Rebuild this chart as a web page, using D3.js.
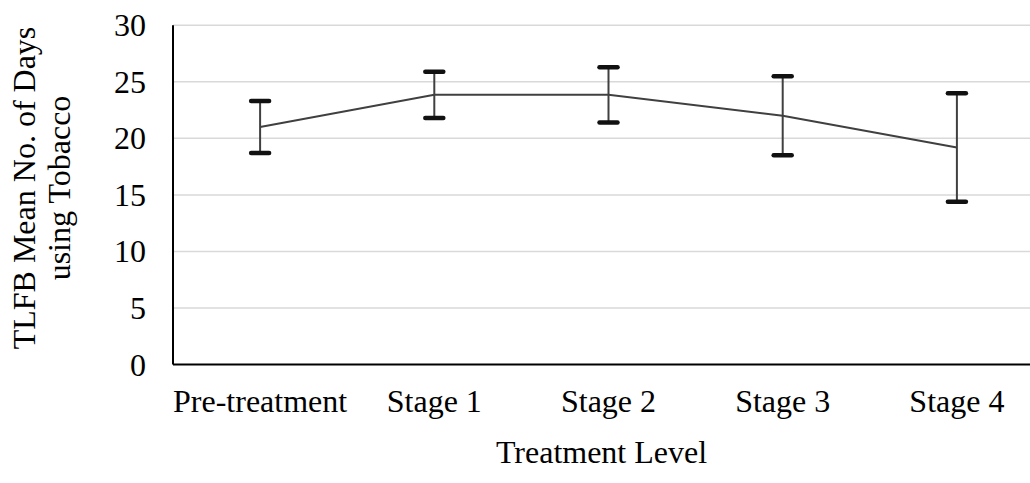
<!DOCTYPE html>
<html>
<head>
<meta charset="utf-8">
<script src="https://cdn.jsdelivr.net/npm/d3@7"></script>
<style>
  html, body { margin: 0; padding: 0; background: #fff; }
  svg { display: block; }
  text { font-family: "Liberation Serif", "Times New Roman", serif; fill: #000; }
</style>
</head>
<body>
<svg id="chart" width="1030" height="483"></svg>
<script>
const categories = ["Pre-treatment", "Stage 1", "Stage 2", "Stage 3", "Stage 4"];
const means = [21.0, 23.85, 23.85, 22.0, 19.2];
const errors = [2.3, 2.05, 2.45, 3.5, 4.8];
const yTicks = [0, 5, 10, 15, 20, 25, 30];
const yTitleLines = ["TLFB Mean No. of Days", "using Tobacco"];
const xTitle = "Treatment Level";

(function () {
const svg = d3.select("#chart");
const mLeft = 173, mRight = 1044, mTop = 25.3, mBottom = 364.5;
const fs = 32;

const x = d3.scaleBand().domain(categories).range([mLeft, mRight]);
const y = d3.scaleLinear().domain([0, 30]).range([mBottom, mTop]);
const cx = d => x(d) + x.bandwidth() / 2;

// gridlines
svg.append("g").selectAll("line").data(yTicks.filter(t => t > 0)).join("line")
  .attr("x1", mLeft).attr("x2", 1030)
  .attr("y1", d => y(d)).attr("y2", d => y(d))
  .attr("stroke", "#d9d9d9").attr("stroke-width", 1.5);

// y tick labels
svg.append("g").selectAll("text").data(yTicks).join("text")
  .attr("x", 146).attr("y", d => y(d))
  .attr("text-anchor", "end").attr("dominant-baseline", "central")
  .attr("font-size", fs).text(d => d);

// axes lines
svg.append("line").attr("x1", mLeft).attr("x2", mLeft).attr("y1", mTop).attr("y2", mBottom)
  .attr("stroke", "#000").attr("stroke-width", 2);
svg.append("line").attr("x1", mLeft).attr("x2", 1030).attr("y1", mBottom).attr("y2", mBottom)
  .attr("stroke", "#000").attr("stroke-width", 2);

// x labels
svg.append("g").selectAll("text").data(categories).join("text")
  .attr("x", d => cx(d)).attr("y", 412)
  .attr("text-anchor", "middle").attr("font-size", fs).text(d => d);

// x title
svg.append("text").attr("x", (mLeft + 1030) / 2).attr("y", 463)
  .attr("text-anchor", "middle").attr("font-size", fs).text(xTitle);

// y title
const yt = svg.append("text").attr("transform", "translate(35,188) rotate(-90)")
  .attr("text-anchor", "middle").attr("font-size", fs);
yt.selectAll("tspan").data(yTitleLines).join("tspan")
  .attr("x", 0).attr("dy", (d, i) => i === 0 ? 0 : 35).text(d => d);

// series line
const line = d3.line().x((d, i) => cx(categories[i])).y(d => y(d));
svg.append("path").datum(means).attr("d", line)
  .attr("fill", "none").attr("stroke", "#404040").attr("stroke-width", 2);

// error bars
const eb = svg.append("g").selectAll("g").data(categories).join("g");
eb.append("line")
  .attr("x1", d => cx(d)).attr("x2", d => cx(d))
  .attr("y1", (d, i) => y(means[i] + errors[i])).attr("y2", (d, i) => y(means[i] - errors[i]))
  .attr("stroke", "#404040").attr("stroke-width", 2);
[1, -1].forEach(s => {
  eb.append("line")
    .attr("x1", d => cx(d) - 9).attr("x2", d => cx(d) + 9)
    .attr("y1", (d, i) => y(means[i] + s * errors[i])).attr("y2", (d, i) => y(means[i] + s * errors[i]))
    .attr("stroke", "#111").attr("stroke-width", 4.5).attr("stroke-linecap", "round");
});
})();
</script>
</body>
</html>
